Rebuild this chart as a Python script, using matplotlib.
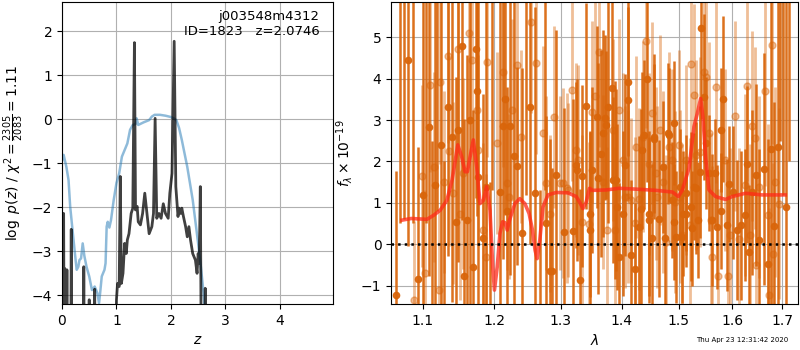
import numpy as np
import matplotlib
matplotlib.use("Agg")
import matplotlib.pyplot as plt
from matplotlib.ticker import NullLocator, FixedLocator, FixedFormatter

# ---- left panel: redshift fit ----
pz_z = [0.0, 0.02, 0.03, 0.04, 0.05, 0.06, 0.08, 0.09, 0.10, 0.16, 0.17, 0.18,
        0.39, 0.40, 0.41, 0.49, 0.50, 0.51, 0.59, 0.60, 0.61, 0.98, 1.00, 1.02,
        1.05, 1.07, 1.09, 1.12, 1.15, 1.18, 1.20, 1.23, 1.27, 1.30, 1.33, 1.35,
        1.38, 1.40, 1.44, 1.48, 1.52, 1.56, 1.60, 1.65, 1.68, 1.71, 1.74, 1.78,
        1.82, 1.86, 1.90, 1.95, 1.98, 2.02, 2.06, 2.09, 2.13, 2.15, 2.18, 2.20,
        2.23, 2.27, 2.30, 2.33, 2.36, 2.40, 2.45, 2.48, 2.50, 2.52, 2.54, 2.56,
        2.62, 2.63, 2.64]
pz_log = [-6, -2.14, -2.14, -6, -3.39, -6, -6, -3.42, -6, -6, -2.5, -6,
          -6, -3.35, -6, -6, -4.1, -6, -6, -3.86, -6, -6, -4.1, -3.73,
          -3.8, -1.3, -3.73, -3.5, -2.82, -3.05, -2.74, -2.6, -2.14, -2.02, 1.74, -2.06,
          -1.98, -2.33, -2.4, -2.14, -1.68, -2.14, -2.6, -2.44, -2.14, 0.02, -2.25, -2.14,
          -2.25, -1.92, -2.14, -2.25, -1.68, -1.23, 1.77, -1.53, -2.21, -2.02, -2.14, -2.02,
          -2.21, -2.44, -2.67, -2.44, -2.74, -3.05, -3.2, -3.5, -3.05, -3.27, -1.53, -6,
          -6, -3.84, -6]

chi_z = [0.0, 0.03, 0.08, 0.12, 0.15, 0.2, 0.25, 0.27, 0.3, 0.32, 0.35, 0.38,
         0.41, 0.45, 0.5, 0.55, 0.6, 0.65, 0.68, 0.7, 0.73, 0.78, 0.8, 0.82,
         0.84, 0.87, 0.9, 0.95, 1.0, 1.05, 1.1, 1.2, 1.25, 1.3, 1.35, 1.37,
         1.4, 1.5, 1.6, 1.65, 1.7, 1.8, 1.9, 2.0, 2.05, 2.1, 2.15, 2.2,
         2.3, 2.4, 2.5, 2.55, 2.6, 2.63, 2.66]
chi_val = [-0.95, -0.81, -1.08, -1.38, -1.98, -2.6, -3.2, -3.42, -3.35, -3.2, -3.16, -2.82,
           -3.1, -3.35, -3.57, -3.88, -3.8, -3.95, -4.18, -3.95, -3.57, -3.42, -3.27, -2.44,
           -2.33, -2.46, -2.29, -1.83, -1.45, -1.23, -0.85, -0.55, -0.24, -0.13, -0.11, 0.02,
           -0.13, -0.07, -0.02, 0.06, 0.1, 0.1, 0.08, 0.05, 0.02, -0.02, -0.2, -0.47,
           -1.08, -1.83, -2.82, -3.35, -3.95, -4.5, -5.0]

# ---- right panel: spectrum ----
beam1_wave = [1.0653, 1.0700, 1.0760, 1.0803, 1.0870, 1.0934, 1.1000, 1.1040, 1.1080, 1.1120,
              1.1161, 1.1200, 1.1250, 1.1290, 1.1337, 1.1400, 1.1456, 1.1488, 1.1534, 1.1571,
              1.1613, 1.1650, 1.1688, 1.1730, 1.1745, 1.1759, 1.1830, 1.1877, 1.1930, 1.1970,
              1.2080, 1.2119, 1.2153, 1.2187, 1.2221, 1.2285, 1.2325, 1.2404, 1.2460, 1.2524,
              1.2605, 1.2680, 1.2760, 1.2778, 1.2829, 1.2870, 1.2933, 1.3048, 1.3196, 1.3249,
              1.3260, 1.3302, 1.3345, 1.3410, 1.3474, 1.3475, 1.3496, 1.3588, 1.3605, 1.3654,
              1.3692, 1.3725, 1.3737, 1.3764, 1.3836, 1.3847, 1.3891, 1.3903, 1.3914, 1.3958,
              1.4015, 1.4048, 1.4099, 1.4101, 1.4156, 1.4230, 1.4299, 1.4327, 1.4345, 1.4385,
              1.4432, 1.4472, 1.4472, 1.4519, 1.4560, 1.4565, 1.4636, 1.4718, 1.4754, 1.4814,
              1.4825, 1.4873, 1.4915, 1.4920, 1.4945, 1.5017, 1.5066, 1.5083, 1.5126, 1.5138,
              1.5217, 1.5235, 1.5272, 1.5315, 1.5346, 1.5389, 1.5408, 1.5463, 1.5494, 1.5557,
              1.5619, 1.5670, 1.5714, 1.5777, 1.5790, 1.5828, 1.5892, 1.5936, 1.6013, 1.6097,
              1.6169, 1.6247, 1.6299, 1.6338, 1.6391, 1.6477, 1.6523, 1.6623, 1.6710, 1.6777,
              1.6824, 1.6905, 1.6960, 1.7020, 1.7080, 1.7140]
beam1_flux = [-1.23, 6.5, 6.8, 4.45, 6.0, -0.85, 1.2, 6.5, 2.84, -2.0,
              1.44, 6.0, 2.4, -2.2, 3.32, 2.6, 0.54, 2.76, 4.79, -0.77,
              0.58, 3.0, -0.55, 4.71, 3.69, 1.63, 0.14, 1.37, -2.5, 6.5,
              1.25, 2.85, 3.51, 0.80, 2.85, 2.13, 1.89, 0.26, 6.2, 3.31,
              1.24, -2.2, 6.3, 0.50, -0.65, -0.65, 1.67, 0.30, 0.31, 1.91,
              1.79, -0.87, 1.65, 3.34, 0.72, 0.33, 1.79, 3.08, 1.59, 2.19,
              2.68, 3.06, 2.88, 3.32, 3.77, 1.55, 1.55, 1.55, 0.90, -0.31,
              0.74, 1.91, 3.49, 3.93, -0.26, -0.61, 0.41, 0.86, 2.27, 2.64,
              4.00, 0.58, 0.74, 0.14, 2.55, 2.60, 0.62, 1.87, 0.14, 2.68,
              2.65, 1.06, 2.92, 0.54, 0.18, 1.39, 0.17, 0.74, 0.74, 1.23,
              0.90, 0.38, 1.39, 1.35, 0.58, 1.75, 5.22, 3.56, 2.44, 1.71,
              0.58, 1.73, 0.42, 2.76, 0.80, 3.51, 0.47, 1.45, 1.25, 0.34,
              0.46, 0.70, 1.93, -0.18, 1.25, 1.67, 0.10, 1.81, -0.47, 2.31,
              0.44, 2.35, 6.5, 6.2, 0.9, 6.5]
beam1_err = [3.0, 6.0, 6.2, 4.5, 5.5, 3.2, 4.8, 6.0, 3.6, 4.5,
             4.6, 5.2, 4.0, 4.2, 3.6, 4.0, 3.5, 3.2, 4.2, 3.8,
             4.0, 4.5, 3.8, 3.6, 3.0, 4.4, 3.5, 4.8, 4.0, 5.2,
             4.8, 3.2, 2.8, 3.0, 3.6, 4.0, 2.4, 4.0, 5.0, 3.3,
             4.5, 3.5, 5.0, 2.6, 3.2, 2.5, 3.5, 3.0, 3.2, 2.0,
             2.2, 2.2, 2.2, 2.5, 2.0, 2.4, 2.0, 2.2, 2.8, 2.5,
             2.5, 2.0, 1.8, 2.8, 2.2, 2.0, 2.4, 2.2, 2.0, 1.8,
             2.0, 2.2, 2.4, 1.8, 1.8, 1.6, 2.2, 2.4, 1.9, 1.8,
             2.5, 2.0, 2.0, 1.8, 1.8, 2.0, 1.9, 1.6, 1.8, 1.7,
             1.6, 1.4, 1.5, 1.4, 1.6, 1.4, 1.6, 1.5, 1.3, 1.4,
             1.8, 1.4, 1.3, 1.6, 1.4, 1.6, 2.2, 2.0, 1.6, 1.4,
             1.6, 1.3, 1.5, 1.5, 1.4, 2.0, 1.6, 1.4, 1.6, 1.7,
             1.8, 1.6, 1.9, 1.6, 2.0, 2.2, 2.2, 2.8, 3.0, 4.2,
             3.0, 4.5, 4.0, 5.0, 5.0, 4.5]

beam2_wave = [1.0881, 1.0991, 1.1030, 1.1093, 1.1157, 1.1224, 1.1237, 1.1283, 1.1342, 1.1356,
              1.1419, 1.1488, 1.1506, 1.1557, 1.1641, 1.1674, 1.1745, 1.1768, 1.1835, 1.1877,
              1.1896, 1.2041, 1.2119, 1.2177, 1.2206, 1.2260, 1.2325, 1.2389, 1.2544, 1.2625,
              1.2726, 1.2777, 1.2829, 1.2891, 1.2985, 1.3037, 1.3100, 1.3121, 1.3185, 1.3238,
              1.3275, 1.3334, 1.3463, 1.3512, 1.3561, 1.3627, 1.3692, 1.3747, 1.3847, 1.3880,
              1.3958, 1.4014, 1.4048, 1.4099, 1.4156, 1.4224, 1.4241, 1.4298, 1.4356, 1.4414,
              1.4461, 1.4530, 1.4583, 1.4618, 1.4665, 1.4724, 1.4778, 1.4825, 1.4885, 1.4933,
              1.5005, 1.5029, 1.5065, 1.5126, 1.5205, 1.5229, 1.5278, 1.5309, 1.5383, 1.5463,
              1.5507, 1.5557, 1.5588, 1.5619, 1.5695, 1.5733, 1.5860, 1.5917, 1.5968, 1.6052,
              1.6130, 1.6247, 1.6293, 1.6358, 1.6391, 1.6457, 1.6470, 1.6523, 1.6643, 1.6710,
              1.6737, 1.6791, 1.6818, 1.6858, 1.6926]
beam2_flux = [-1.34, 1.65, -0.70, 3.85, 1.87, -1.11, 3.93, 1.51, 4.55, 2.25,
              1.23, 4.72, 0.74, 1.71, 5.10, 4.45, 3.24, 2.27, 0.34, -0.31,
              4.41, 2.44, 4.16, 1.47, 1.15, 3.24, 4.32, 2.60, 5.38, 4.37,
              2.69, 1.47, 0.74, 3.08, 1.47, 1.48, 1.35, 1.31, 3.73, 2.27,
              2.03, 0.54, 0.48, 3.20, 3.58, 4.64, 1.51, 0.34, 2.76, 0.34,
              3.24, 2.03, 1.15, 1.15, 1.06, 0.50, 2.35, 1.08, 2.60, 4.90,
              1.93, 3.16, 1.71, 1.15, 2.76, 1.51, 0.06, 2.35, 2.03, 1.02,
              2.40, 1.15, 0.22, 2.03, 0.46, 4.35, 3.60, 2.15, 2.23, 4.16,
              4.03, 2.69, 0.58, -0.31, 3.79, -0.76, 2.03, -0.76, 0.22, 3.09,
              0.12, 1.43, 3.82, 0.22, 2.86, 2.56, -0.51, 1.39, 3.71, 0.70,
              -1.23, 4.81, -0.23, 1.51, 0.98]
beam2_err = [1.9, 2.2, 2.0, 2.1, 2.3, 1.9, 2.0, 2.2, 2.1, 2.3,
             2.2, 2.3, 2.1, 2.3, 2.2, 2.1, 2.2, 2.3, 2.1, 2.0,
             2.3, 2.2, 2.3, 2.1, 2.0, 2.2, 2.3, 2.1, 2.2, 2.2,
             2.1, 2.1, 1.9, 2.2, 2.1, 2.3, 2.3, 2.1, 2.2, 2.1,
             2.3, 2.1, 2.0, 2.2, 2.3, 2.3, 2.1, 2.0, 2.2, 2.0,
             2.2, 2.1, 2.2, 2.1, 2.0, 2.1, 2.2, 2.2, 2.3, 2.1,
             2.2, 2.2, 2.1, 2.2, 2.3, 2.2, 2.1, 2.3, 2.2, 2.2,
             2.3, 2.1, 2.2, 2.3, 2.1, 2.3, 2.2, 2.3, 2.3, 2.2,
             2.1, 2.2, 2.1, 2.2, 2.3, 2.1, 2.2, 2.2, 2.1, 2.3,
             2.2, 2.2, 2.3, 2.2, 2.3, 2.2, 2.1, 2.2, 2.3, 2.2,
             2.1, 2.4, 2.2, 2.3, 2.3]

model_wave = [1.0728, 1.0850, 1.1058, 1.1150, 1.1237, 1.1328, 1.1400, 1.1479, 1.1534, 1.1580,
              1.1613, 1.1650, 1.1697, 1.1745, 1.1792, 1.1840, 1.1887, 1.1935, 1.1975, 1.2000,
              1.2040, 1.2080, 1.2119, 1.2153, 1.2187, 1.2221, 1.2300, 1.2374, 1.2450, 1.2514,
              1.2565, 1.2605, 1.2636, 1.2677, 1.2726, 1.2803, 1.2933, 1.3116, 1.3249, 1.3302,
              1.3356, 1.3410, 1.3463, 1.3512, 1.3736, 1.3958, 1.4241, 1.4589, 1.4885, 1.4993,
              1.5065, 1.5187, 1.5278, 1.5340, 1.5402, 1.5444, 1.5494, 1.5557, 1.5683, 1.5873,
              1.6000, 1.6260, 1.6590, 1.7063]
model_flux = [0.58, 0.62, 0.60, 0.70, 0.82, 1.06, 1.55, 2.40, 2.11, 1.75,
              1.75, 2.10, 2.52, 1.87, 0.98, 1.06, 1.39, 0.82, -0.55, -1.11,
              -0.55, 0.26, 0.54, 0.52, 0.34, 0.58, 0.98, 1.10, 0.98, 0.74,
              0.34, -0.15, -0.35, 0.10, 0.90, 1.19, 1.25, 1.24, 1.15, 1.02,
              0.86, 1.02, 1.35, 1.30, 1.31, 1.35, 1.33, 1.30, 1.26, 1.15,
              1.31, 1.84, 2.84, 3.16, 3.52, 3.08, 2.11, 1.31, 1.15, 1.08,
              1.15, 1.23, 1.19, 1.19]

wave_ticks = [1.1, 1.2, 1.3, 1.4, 1.5, 1.6, 1.7]
spec_color = "#d9650a"

fig = plt.figure(figsize=(8, 3.5), dpi=100)
ax1 = fig.add_axes([0.0775, 0.131, 0.339, 0.863])
ax2 = fig.add_axes([0.489, 0.131, 0.508, 0.863])

# redshift fit
ax1.plot(chi_z, chi_val, color="tab:blue", alpha=0.5, lw=1.8)
ax1.plot(pz_z, pz_log, color="k", alpha=0.75, lw=2)
ax1.set_xlim(0, 4.98)
ax1.set_ylim(-4.2, 2.66)
ax1.set_xticks([0, 1, 2, 3, 4])
ax1.set_yticks([-4, -3, -2, -1, 0, 1, 2])
ax1.grid()
ax1.set_xlabel(r"$z$")
ax1.set_ylabel(r"$\log\ p(z)$ / $\chi^2=\frac{2305}{2083}=1.11$")
ax1.text(0.95, 0.975, "j003548m4312\nID=1823   z=2.0746", transform=ax1.transAxes,
         ha="right", va="top", fontsize=9.5)

# spectrum
ax2.errorbar(beam2_wave, beam2_flux, yerr=beam2_err, fmt="o", color=spec_color,
             ms=5, elinewidth=2, alpha=0.42, zorder=2)
ax2.errorbar(beam1_wave, beam1_flux, yerr=beam1_err, fmt="o", color=spec_color,
             ms=4.5, elinewidth=1.8, alpha=0.92, zorder=2)
ax2.plot(model_wave, model_flux, color="#ff2a18", alpha=0.75, lw=2.6, zorder=3)
ax2.axhline(0, color="k", ls=":", lw=1.8, zorder=4)
ax2.set_xscale("log")
ax2.xaxis.set_major_locator(FixedLocator(wave_ticks))
ax2.xaxis.set_major_formatter(FixedFormatter([str(w) for w in wave_ticks]))
ax2.xaxis.set_minor_locator(NullLocator())
ax2.set_xlim(1.059, 1.732)
ax2.set_ylim(-1.45, 5.85)
ax2.grid()
ax2.set_xlabel(r"$\lambda$")
ax2.set_ylabel(r"$f_\lambda\times10^{-19}$")

fig.text(0.985, 0.028, "Thu Apr 23 12:31:42 2020", ha="right", va="center", fontsize=5)

fig.savefig("out.png", dpi=100)
